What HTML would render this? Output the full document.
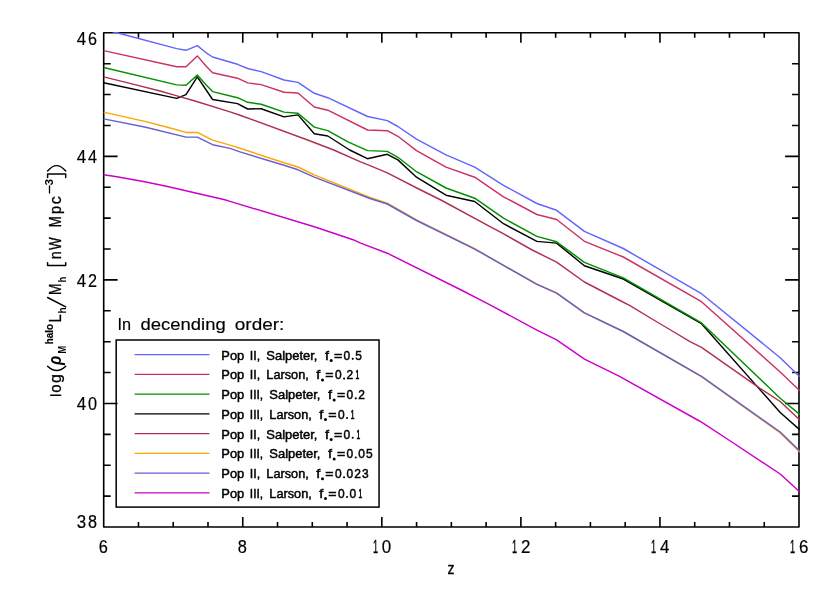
<!DOCTYPE html>
<html><head><meta charset="utf-8"><title>plot</title>
<style>html,body{margin:0;padding:0;background:#fff;}svg{display:block;}text{font-family:"Liberation Sans",sans-serif;fill:#000;}</style></head><body>
<svg width="830" height="593" viewBox="0 0 830 593" style="will-change:transform">
<rect x="0" y="0" width="830" height="593" fill="#ffffff"/>
<defs><clipPath id="pc"><rect x="102.9" y="31.999999999999996" width="696.90" height="495.80"/></clipPath></defs>
<path d="M103.7,32.8H799.0V527.0H103.7ZM103.70,527.0v-9.9M103.70,32.8v9.9M138.47,527.0v-4.9M138.47,32.8v4.9M173.23,527.0v-4.9M173.23,32.8v4.9M208.00,527.0v-4.9M208.00,32.8v4.9M242.76,527.0v-9.9M242.76,32.8v9.9M277.52,527.0v-4.9M277.52,32.8v4.9M312.29,527.0v-4.9M312.29,32.8v4.9M347.06,527.0v-4.9M347.06,32.8v4.9M381.82,527.0v-9.9M381.82,32.8v9.9M416.58,527.0v-4.9M416.58,32.8v4.9M451.35,527.0v-4.9M451.35,32.8v4.9M486.12,527.0v-4.9M486.12,32.8v4.9M520.88,527.0v-9.9M520.88,32.8v9.9M555.64,527.0v-4.9M555.64,32.8v4.9M590.41,527.0v-4.9M590.41,32.8v4.9M625.18,527.0v-4.9M625.18,32.8v4.9M659.94,527.0v-9.9M659.94,32.8v9.9M694.71,527.0v-4.9M694.71,32.8v4.9M729.47,527.0v-4.9M729.47,32.8v4.9M764.24,527.0v-4.9M764.24,32.8v4.9M799.00,527.0v-9.9M799.00,32.8v9.9M103.7,527.00h13.9M799.0,527.00h-13.9M103.7,496.11h6.95M799.0,496.11h-6.95M103.7,465.23h6.95M799.0,465.23h-6.95M103.7,434.34h6.95M799.0,434.34h-6.95M103.7,403.45h13.9M799.0,403.45h-13.9M103.7,372.56h6.95M799.0,372.56h-6.95M103.7,341.68h6.95M799.0,341.68h-6.95M103.7,310.79h6.95M799.0,310.79h-6.95M103.7,279.90h13.9M799.0,279.90h-13.9M103.7,249.01h6.95M799.0,249.01h-6.95M103.7,218.12h6.95M799.0,218.12h-6.95M103.7,187.24h6.95M799.0,187.24h-6.95M103.7,156.35h13.9M799.0,156.35h-13.9M103.7,125.46h6.95M799.0,125.46h-6.95M103.7,94.57h6.95M799.0,94.57h-6.95M103.7,63.69h6.95M799.0,63.69h-6.95M103.7,32.80h13.9M799.0,32.80h-13.9" fill="none" stroke="#000" stroke-width="1.6" stroke-linecap="butt" stroke-linejoin="round"/>
<g clip-path="url(#pc)" fill="none" stroke-linejoin="round" stroke-linecap="butt">
<polyline points="103.7,82.8 176.7,98.4 186.0,94.6 197.3,76.9 212.6,99.5 237.5,103.6 247.7,109.0 261.2,108.7 284.0,116.9 298.0,114.9 314.3,133.8 327.8,136.0 349.7,150.0 367.4,158.7 387.3,154.3 397.9,159.9 416.5,177.2 446.0,195.2 474.7,201.5 503.5,223.7 536.9,241.4 556.6,243.1 584.4,265.7 623.3,279.0 701.5,323.7 780.2,412.5 799.0,429.1 800.0,430.0" stroke="#000000" stroke-width="1.45"/>
<polyline points="103.7,29.3 117.0,32.8 176.7,48.6 186.0,50.3 197.3,45.6 206.2,52.8 212.6,57.0 237.5,64.3 247.7,68.5 261.2,71.6 284.0,80.0 298.0,82.4 314.3,93.3 327.8,97.7 367.6,116.5 387.3,120.6 397.9,126.5 416.5,139.1 446.0,154.8 474.7,167.1 503.5,185.3 536.9,203.5 556.6,210.3 584.4,231.3 623.3,248.5 701.5,293.7 780.2,357.7 799.0,376.0 800.0,377.0" stroke="#6464ff" stroke-width="1.45"/>
<polyline points="103.7,50.6 176.7,66.8 186.0,66.8 197.3,55.9 206.2,66.3 212.6,72.7 237.5,78.2 247.7,82.9 261.2,84.6 284.0,92.2 298.0,93.0 314.3,107.0 327.8,110.2 367.6,130.0 387.3,130.7 397.9,136.3 416.5,150.6 446.0,167.1 474.7,177.2 503.5,196.8 536.9,214.5 556.6,219.5 584.4,241.3 623.3,257.0 701.5,301.7 780.2,372.0 799.0,390.0 800.0,391.0" stroke="#cd3264" stroke-width="1.45"/>
<polyline points="103.7,67.5 176.7,84.9 186.0,85.2 197.3,75.1 206.2,84.9 212.6,91.6 237.5,97.7 247.7,102.3 261.2,104.3 284.0,112.1 298.0,113.2 314.3,127.1 327.8,130.6 348.0,141.9 367.6,150.6 387.3,151.4 397.9,157.3 416.5,171.7 446.0,188.0 474.7,198.2 503.5,218.2 536.9,236.4 556.6,241.8 584.4,262.3 623.3,277.8 701.5,322.9 780.2,398.2 799.0,413.9 800.0,414.7" stroke="#009000" stroke-width="1.45"/>
<polyline points="103.7,76.9 130.0,83.4 160.0,91.0 176.1,95.6 195.0,101.0 230.0,111.9 240.0,115.2 307.6,140.0 333.7,150.0 360.0,161.6 370.0,165.6 387.3,172.8 420.7,190.0 440.9,200.0 490.0,226.6 500.0,231.8 532.2,250.0 556.6,262.1 584.4,282.0 620.0,300.5 630.0,305.6 653.7,320.0 670.6,330.0 690.0,341.7 701.5,347.3 760.0,388.3 780.2,401.5 799.0,419.3 800.0,420.2" stroke="#b03050" stroke-width="1.45"/>
<polyline points="103.7,112.1 144.7,121.4 167.5,127.3 186.0,132.4 197.3,132.4 212.6,140.1 230.0,145.1 240.0,148.3 284.0,162.8 298.0,167.0 314.3,174.9 360.0,193.3 370.0,197.5 387.3,203.2 416.5,219.9 474.7,248.6 503.5,265.3 536.9,284.1 556.6,292.9 584.4,312.9 623.3,331.5 701.5,376.7 780.2,432.9 799.0,451.2 800.0,452.2" stroke="#ffa500" stroke-width="1.45"/>
<polyline points="103.7,118.9 144.7,127.0 186.0,137.1 197.3,137.1 212.6,144.7 230.0,148.4 240.0,151.9 284.0,165.3 298.0,169.8 314.3,177.1 370.0,198.5 387.3,204.0 416.5,220.5 474.7,249.1 503.5,265.4 536.9,284.3 556.6,293.1 584.4,312.9 623.3,331.5 701.5,376.3 780.2,432.0 799.0,450.2 800.0,451.2" stroke="#665fd0" stroke-width="1.45"/>
<polyline points="103.7,174.7 116.9,176.7 144.7,181.8 167.5,186.5 224.8,199.8 230.0,201.4 314.3,226.7 353.1,239.7 360.0,242.9 387.3,253.2 461.2,290.0 490.0,304.8 536.9,330.1 556.6,339.9 584.5,359.1 620.0,376.6 697.6,420.0 701.5,422.1 728.8,440.0 780.2,474.0 799.0,491.3 800.0,492.2" stroke="#cc00cc" stroke-width="1.45"/>
</g>
<text transform="translate(98.75,552.50) scale(0.916,1)" font-size="17.9" stroke="#000" stroke-width="0.2">6</text>
<text transform="translate(237.81,552.50) scale(0.916,1)" font-size="17.9" stroke="#000" stroke-width="0.2">8</text>
<text transform="translate(372.92,552.50) scale(0.513,1)" font-size="17.9" stroke="#000" stroke-width="0.3">1</text>
<text transform="translate(381.82,552.50) scale(0.946,1)" font-size="17.9" stroke="#000" stroke-width="0.2">0</text>
<text transform="translate(511.98,552.50) scale(0.513,1)" font-size="17.9" stroke="#000" stroke-width="0.3">1</text>
<text transform="translate(520.88,552.50) scale(0.946,1)" font-size="17.9" stroke="#000" stroke-width="0.2">2</text>
<text transform="translate(651.04,552.50) scale(0.513,1)" font-size="17.9" stroke="#000" stroke-width="0.3">1</text>
<text transform="translate(659.94,552.50) scale(0.946,1)" font-size="17.9" stroke="#000" stroke-width="0.2">4</text>
<text transform="translate(790.10,552.50) scale(0.513,1)" font-size="17.9" stroke="#000" stroke-width="0.3">1</text>
<text transform="translate(799.00,552.50) scale(0.946,1)" font-size="17.9" stroke="#000" stroke-width="0.2">6</text>
<text transform="translate(76.70,527.70) scale(0.946,1)" font-size="17.9" stroke="#000" stroke-width="0.2">3</text>
<text transform="translate(88.00,527.70) scale(0.906,1)" font-size="17.9" stroke="#000" stroke-width="0.2">8</text>
<text transform="translate(76.70,410.45) scale(0.946,1)" font-size="17.9" stroke="#000" stroke-width="0.2">4</text>
<text transform="translate(88.00,410.45) scale(0.906,1)" font-size="17.9" stroke="#000" stroke-width="0.2">0</text>
<text transform="translate(76.70,286.90) scale(0.946,1)" font-size="17.9" stroke="#000" stroke-width="0.2">4</text>
<text transform="translate(88.00,286.90) scale(0.906,1)" font-size="17.9" stroke="#000" stroke-width="0.2">2</text>
<text transform="translate(76.70,163.35) scale(0.946,1)" font-size="17.9" stroke="#000" stroke-width="0.2">4</text>
<text transform="translate(88.00,163.35) scale(0.906,1)" font-size="17.9" stroke="#000" stroke-width="0.2">4</text>
<text transform="translate(76.70,44.70) scale(0.946,1)" font-size="17.9" stroke="#000" stroke-width="0.2">4</text>
<text transform="translate(88.00,44.70) scale(0.906,1)" font-size="17.9" stroke="#000" stroke-width="0.2">6</text>
<text transform="translate(447.45,574.00) scale(0.833,1)" font-size="16.8" stroke="#000" stroke-width="0.3">z</text>
<g transform="translate(60.7,400.0) rotate(-90)">
<path d="M4.80,-10.0V0" fill="none" stroke="#000" stroke-width="1.45" stroke-linecap="round" stroke-linejoin="round"/>
<text transform="translate(7.30,0.00) scale(0.890,1)" font-size="16.8" stroke="#000" stroke-width="0.3">o</text>
<text transform="translate(16.90,0.00) scale(0.944,1)" font-size="16.8" stroke="#000" stroke-width="0.3">g</text>
<path d="M33.80,-13.1Q25.20,-4.05 33.80,5.0" fill="none" stroke="#000" stroke-width="1.45" stroke-linecap="round" stroke-linejoin="round"/>
<text transform="translate(34.88,0.00) scale(0.838,1)" font-size="18.0" font-weight="bold" font-style="italic">ρ</text>
<text transform="translate(46.40,5.00) scale(0.826,1)" font-size="11.2" font-weight="bold">M</text>
<text transform="translate(55.70,-7.60) scale(0.924,1)" font-size="10.8" font-weight="bold" stroke="#000" stroke-width="0.15">halo</text>
<text transform="translate(77.40,0.00) scale(0.935,1)" font-size="15.8" stroke="#000" stroke-width="0.3">L</text>
<text transform="translate(86.40,5.00) scale(0.924,1)" font-size="11.0" font-weight="bold">h</text>
<path d="M93.10,5.0L102.50,-13.1" fill="none" stroke="#000" stroke-width="1.45" stroke-linecap="round" stroke-linejoin="round"/>
<text transform="translate(105.00,0.00) scale(0.867,1)" font-size="15.8" stroke="#000" stroke-width="0.3">M</text>
<text transform="translate(117.40,5.00) scale(0.864,1)" font-size="11.0" font-weight="bold">h</text>
<path d="M137.40,-13.1H134.50V5.0H137.40" fill="none" stroke="#000" stroke-width="1.45" stroke-linecap="round" stroke-linejoin="round"/>
<text transform="translate(140.80,0.00) scale(0.858,1)" font-size="16.8" stroke="#000" stroke-width="0.3">n</text>
<text transform="translate(150.10,0.00) scale(0.851,1)" font-size="15.8" stroke="#000" stroke-width="0.3">W</text>
<text transform="translate(172.80,0.00) scale(0.836,1)" font-size="15.8" stroke="#000" stroke-width="0.3">M</text>
<text transform="translate(186.10,0.00) scale(0.858,1)" font-size="16.8" stroke="#000" stroke-width="0.3">p</text>
<text transform="translate(195.80,0.00) scale(0.952,1)" font-size="16.8" stroke="#000" stroke-width="0.3">c</text>
<path d="M207.00,-11.2H214.00" fill="none" stroke="#000" stroke-width="1.3" stroke-linecap="round" stroke-linejoin="round"/>
<text transform="translate(214.60,-7.40) scale(0.993,1)" font-size="11.8" font-weight="bold">3</text>
<path d="M222.60,-13.1H226.10V5.0H222.60" fill="none" stroke="#000" stroke-width="1.45" stroke-linecap="round" stroke-linejoin="round"/>
<path d="M229.00,-13.1Q239.80,-4.05 229.00,5.0" fill="none" stroke="#000" stroke-width="1.45" stroke-linecap="round" stroke-linejoin="round"/>
</g>
<text transform="translate(117.40,329.60) scale(0.993,1)" font-size="16.4" stroke="#000" stroke-width="0.15">In</text>
<text transform="translate(140.50,329.60) scale(1.126,1)" font-size="16.4" stroke="#000" stroke-width="0.15">decending</text>
<text transform="translate(234.80,329.60) scale(1.158,1)" font-size="16.4" stroke="#000" stroke-width="0.15">order:</text>
<rect x="116.2" y="340.0" width="262.85" height="167.10" fill="none" stroke="#000" stroke-width="1.5"/>
<line x1="134.6" y1="354.60" x2="209.5" y2="354.60" stroke="#6464ff" stroke-width="1.3"/>
<text transform="translate(221.30,359.60) scale(1.077,1)" font-size="12.0" stroke="#000" stroke-width="0.45">Pop</text>
<text transform="translate(249.80,359.60) scale(1.041,1)" font-size="12.0" stroke="#000" stroke-width="0.45">II,</text>
<text transform="translate(266.30,359.60) scale(1.081,1)" font-size="12.0" stroke="#000" stroke-width="0.45">Salpeter,</text>
<text transform="translate(324.90,359.60) scale(1.200,1)" font-size="12.0" stroke="#000" stroke-width="0.45">f</text>
<circle cx="331.2" cy="360.4" r="1.5" fill="#000"/>
<text transform="translate(333.90,359.60) scale(1.182,1)" font-size="12.0" stroke="#000" stroke-width="0.45">=</text>
<text transform="translate(343.61,359.60) scale(0.998,1)" font-size="12.0" stroke="#000" stroke-width="0.45">0</text>
<circle cx="352.74" cy="358.85" r="1.05" fill="#000"/>
<text transform="translate(355.22,359.60) scale(0.998,1)" font-size="12.0" stroke="#000" stroke-width="0.45">5</text>
<line x1="134.6" y1="374.34" x2="209.5" y2="374.34" stroke="#cd3264" stroke-width="1.3"/>
<text transform="translate(221.30,379.34) scale(1.077,1)" font-size="12.0" stroke="#000" stroke-width="0.45">Pop</text>
<text transform="translate(249.80,379.34) scale(1.041,1)" font-size="12.0" stroke="#000" stroke-width="0.45">II,</text>
<text transform="translate(266.30,379.34) scale(1.062,1)" font-size="12.0" stroke="#000" stroke-width="0.45">Larson,</text>
<text transform="translate(316.20,379.34) scale(1.200,1)" font-size="12.0" stroke="#000" stroke-width="0.45">f</text>
<circle cx="322.5" cy="380.1" r="1.5" fill="#000"/>
<text transform="translate(325.20,379.34) scale(1.182,1)" font-size="12.0" stroke="#000" stroke-width="0.45">=</text>
<text transform="translate(334.91,379.34) scale(0.998,1)" font-size="12.0" stroke="#000" stroke-width="0.45">0</text>
<circle cx="344.04" cy="378.59" r="1.05" fill="#000"/>
<text transform="translate(346.52,379.34) scale(0.998,1)" font-size="12.0" stroke="#000" stroke-width="0.45">2</text>
<text transform="translate(355.61,379.34) scale(0.556,1)" font-size="12.0" stroke="#000" stroke-width="0.7">1</text>
<line x1="134.6" y1="394.08" x2="209.5" y2="394.08" stroke="#009000" stroke-width="1.3"/>
<text transform="translate(221.30,399.08) scale(1.077,1)" font-size="12.0" stroke="#000" stroke-width="0.45">Pop</text>
<text transform="translate(249.80,399.08) scale(1.004,1)" font-size="12.0" stroke="#000" stroke-width="0.45">III,</text>
<text transform="translate(269.30,399.08) scale(1.081,1)" font-size="12.0" stroke="#000" stroke-width="0.45">Salpeter,</text>
<text transform="translate(327.90,399.08) scale(1.200,1)" font-size="12.0" stroke="#000" stroke-width="0.45">f</text>
<circle cx="334.2" cy="399.9" r="1.5" fill="#000"/>
<text transform="translate(336.90,399.08) scale(1.182,1)" font-size="12.0" stroke="#000" stroke-width="0.45">=</text>
<text transform="translate(346.61,399.08) scale(0.998,1)" font-size="12.0" stroke="#000" stroke-width="0.45">0</text>
<circle cx="355.74" cy="398.33" r="1.05" fill="#000"/>
<text transform="translate(358.22,399.08) scale(0.998,1)" font-size="12.0" stroke="#000" stroke-width="0.45">2</text>
<line x1="134.6" y1="413.82" x2="209.5" y2="413.82" stroke="#000000" stroke-width="1.3"/>
<text transform="translate(221.30,418.82) scale(1.077,1)" font-size="12.0" stroke="#000" stroke-width="0.45">Pop</text>
<text transform="translate(249.80,418.82) scale(1.004,1)" font-size="12.0" stroke="#000" stroke-width="0.45">III,</text>
<text transform="translate(269.30,418.82) scale(1.062,1)" font-size="12.0" stroke="#000" stroke-width="0.45">Larson,</text>
<text transform="translate(319.20,418.82) scale(1.200,1)" font-size="12.0" stroke="#000" stroke-width="0.45">f</text>
<circle cx="325.5" cy="419.6" r="1.5" fill="#000"/>
<text transform="translate(328.20,418.82) scale(1.182,1)" font-size="12.0" stroke="#000" stroke-width="0.45">=</text>
<text transform="translate(337.91,418.82) scale(0.998,1)" font-size="12.0" stroke="#000" stroke-width="0.45">0</text>
<circle cx="347.04" cy="418.07" r="1.05" fill="#000"/>
<text transform="translate(350.87,418.82) scale(0.556,1)" font-size="12.0" stroke="#000" stroke-width="0.7">1</text>
<line x1="134.6" y1="433.56" x2="209.5" y2="433.56" stroke="#b03050" stroke-width="1.3"/>
<text transform="translate(221.30,438.56) scale(1.077,1)" font-size="12.0" stroke="#000" stroke-width="0.45">Pop</text>
<text transform="translate(249.80,438.56) scale(1.041,1)" font-size="12.0" stroke="#000" stroke-width="0.45">II,</text>
<text transform="translate(266.30,438.56) scale(1.081,1)" font-size="12.0" stroke="#000" stroke-width="0.45">Salpeter,</text>
<text transform="translate(324.90,438.56) scale(1.200,1)" font-size="12.0" stroke="#000" stroke-width="0.45">f</text>
<circle cx="331.2" cy="439.4" r="1.5" fill="#000"/>
<text transform="translate(333.90,438.56) scale(1.182,1)" font-size="12.0" stroke="#000" stroke-width="0.45">=</text>
<text transform="translate(343.61,438.56) scale(0.998,1)" font-size="12.0" stroke="#000" stroke-width="0.45">0</text>
<circle cx="352.74" cy="437.81" r="1.05" fill="#000"/>
<text transform="translate(356.57,438.56) scale(0.556,1)" font-size="12.0" stroke="#000" stroke-width="0.7">1</text>
<line x1="134.6" y1="453.30" x2="209.5" y2="453.30" stroke="#ffa500" stroke-width="1.3"/>
<text transform="translate(221.30,458.30) scale(1.077,1)" font-size="12.0" stroke="#000" stroke-width="0.45">Pop</text>
<text transform="translate(249.80,458.30) scale(1.004,1)" font-size="12.0" stroke="#000" stroke-width="0.45">III,</text>
<text transform="translate(269.30,458.30) scale(1.081,1)" font-size="12.0" stroke="#000" stroke-width="0.45">Salpeter,</text>
<text transform="translate(327.90,458.30) scale(1.200,1)" font-size="12.0" stroke="#000" stroke-width="0.45">f</text>
<circle cx="334.2" cy="459.1" r="1.5" fill="#000"/>
<text transform="translate(336.90,458.30) scale(1.182,1)" font-size="12.0" stroke="#000" stroke-width="0.45">=</text>
<text transform="translate(346.61,458.30) scale(0.998,1)" font-size="12.0" stroke="#000" stroke-width="0.45">0</text>
<circle cx="355.74" cy="457.55" r="1.05" fill="#000"/>
<text transform="translate(358.22,458.30) scale(0.998,1)" font-size="12.0" stroke="#000" stroke-width="0.45">0</text>
<text transform="translate(365.96,458.30) scale(0.998,1)" font-size="12.0" stroke="#000" stroke-width="0.45">5</text>
<line x1="134.6" y1="473.04" x2="209.5" y2="473.04" stroke="#665fd0" stroke-width="1.3"/>
<text transform="translate(221.30,478.04) scale(1.077,1)" font-size="12.0" stroke="#000" stroke-width="0.45">Pop</text>
<text transform="translate(249.80,478.04) scale(1.041,1)" font-size="12.0" stroke="#000" stroke-width="0.45">II,</text>
<text transform="translate(266.30,478.04) scale(1.062,1)" font-size="12.0" stroke="#000" stroke-width="0.45">Larson,</text>
<text transform="translate(316.20,478.04) scale(1.200,1)" font-size="12.0" stroke="#000" stroke-width="0.45">f</text>
<circle cx="322.5" cy="478.8" r="1.5" fill="#000"/>
<text transform="translate(325.20,478.04) scale(1.182,1)" font-size="12.0" stroke="#000" stroke-width="0.45">=</text>
<text transform="translate(334.91,478.04) scale(0.998,1)" font-size="12.0" stroke="#000" stroke-width="0.45">0</text>
<circle cx="344.04" cy="477.29" r="1.05" fill="#000"/>
<text transform="translate(346.52,478.04) scale(0.998,1)" font-size="12.0" stroke="#000" stroke-width="0.45">0</text>
<text transform="translate(354.26,478.04) scale(0.998,1)" font-size="12.0" stroke="#000" stroke-width="0.45">2</text>
<text transform="translate(362.00,478.04) scale(0.998,1)" font-size="12.0" stroke="#000" stroke-width="0.45">3</text>
<line x1="134.6" y1="492.78" x2="209.5" y2="492.78" stroke="#cc00cc" stroke-width="1.3"/>
<text transform="translate(221.30,497.78) scale(1.077,1)" font-size="12.0" stroke="#000" stroke-width="0.45">Pop</text>
<text transform="translate(249.80,497.78) scale(1.004,1)" font-size="12.0" stroke="#000" stroke-width="0.45">III,</text>
<text transform="translate(269.30,497.78) scale(1.062,1)" font-size="12.0" stroke="#000" stroke-width="0.45">Larson,</text>
<text transform="translate(319.20,497.78) scale(1.200,1)" font-size="12.0" stroke="#000" stroke-width="0.45">f</text>
<circle cx="325.5" cy="498.6" r="1.5" fill="#000"/>
<text transform="translate(328.20,497.78) scale(1.182,1)" font-size="12.0" stroke="#000" stroke-width="0.45">=</text>
<text transform="translate(337.91,497.78) scale(0.998,1)" font-size="12.0" stroke="#000" stroke-width="0.45">0</text>
<circle cx="347.04" cy="497.03" r="1.05" fill="#000"/>
<text transform="translate(349.52,497.78) scale(0.998,1)" font-size="12.0" stroke="#000" stroke-width="0.45">0</text>
<text transform="translate(358.61,497.78) scale(0.556,1)" font-size="12.0" stroke="#000" stroke-width="0.7">1</text>
</svg></body></html>
